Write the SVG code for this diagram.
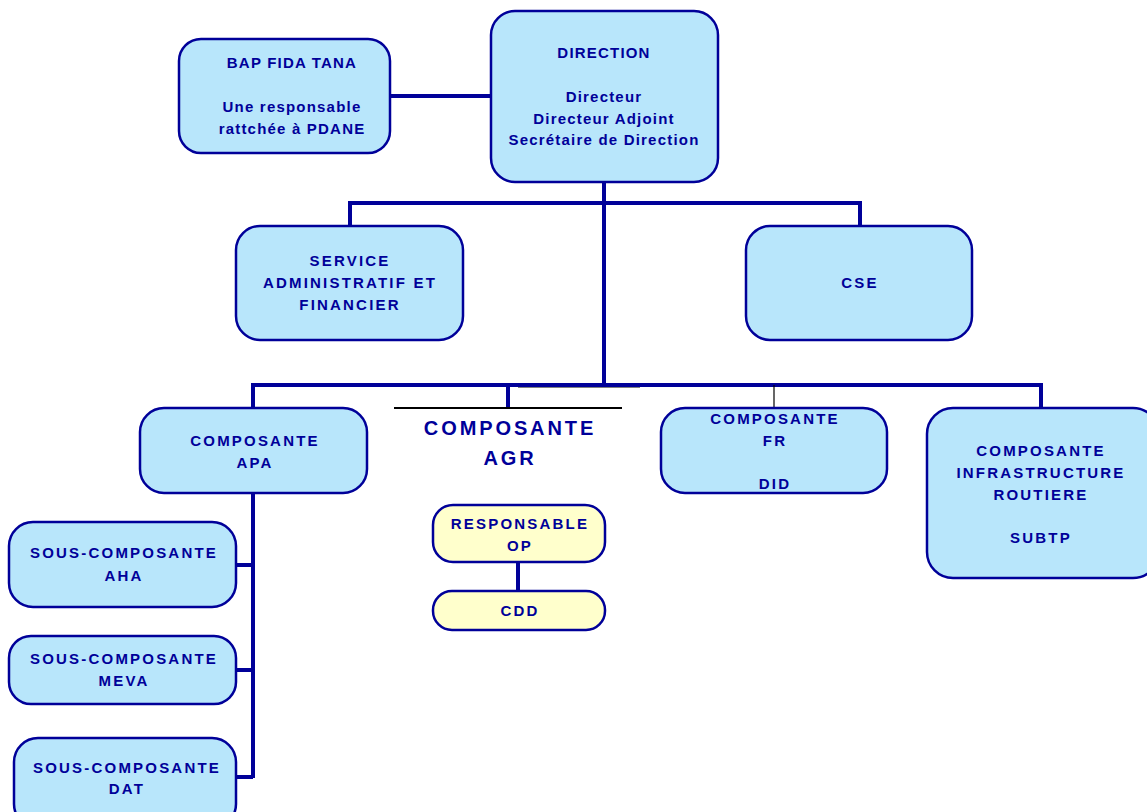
<svg xmlns="http://www.w3.org/2000/svg" width="1147" height="812" viewBox="0 0 1147 812">
<style>
.b{fill:#B8E6FB;stroke:#000099;stroke-width:2.5}
.y{fill:#FFFFCC;stroke:#000099;stroke-width:2.5}
.c{stroke:#000099;stroke-width:4;fill:none}
.t{fill:#000099;font-family:"Liberation Sans",Arial,sans-serif;font-weight:bold;font-size:15px;text-anchor:middle;letter-spacing:1.2px}
.k{letter-spacing:2.2px}
.big{font-size:20px;letter-spacing:2.9px}
</style>
<rect width="1147" height="812" fill="#fff"/>
<g id="connectors">
<path class="c" d="M390 96H491"/>
<path d="M518 387H640" stroke="#000" stroke-width="1"/>
<path class="c" d="M604 182V387"/>
<path class="c" d="M350 226V203H860V226"/>
<path class="c" d="M253 408V385H1041V408"/>
<path class="c" d="M508 385V408"/>
<path d="M774 385V408" stroke="#000" stroke-width="1.2"/>
<path class="c" d="M253 493V778"/>
<path class="c" d="M236 565H253M236 670H253M236 777H253"/>
<path class="c" d="M518 562V591"/>
</g>
<g id="bap"><rect class="b" x="179" y="39" width="211" height="114" rx="22"/>
<text class="t" x="292" y="68">BAP FIDA TANA</text>
<text class="t" x="292" y="112">Une responsable</text>
<text class="t" x="292" y="134">rattchée à PDANE</text></g>
<g id="direction"><rect class="b" x="491" y="11" width="227" height="171" rx="24"/>
<text class="t" x="604" y="58">DIRECTION</text>
<text class="t" x="604" y="102">Directeur</text>
<text class="t" x="604" y="124">Directeur Adjoint</text>
<text class="t" x="604" y="145">Secrétaire de Direction</text></g>
<g id="saf"><rect class="b" x="236" y="226" width="227" height="114" rx="24"/>
<text class="t k" x="350" y="266">SERVICE</text>
<text class="t k" x="350" y="288">ADMINISTRATIF ET</text>
<text class="t k" x="350" y="310">FINANCIER</text></g>
<g id="cse"><rect class="b" x="746" y="226" width="226" height="114" rx="24"/>
<text class="t k" x="860" y="288">CSE</text></g>
<g id="apa"><rect class="b" x="140" y="408" width="227" height="85" rx="24"/>
<text class="t k" x="255" y="446">COMPOSANTE</text>
<text class="t k" x="255" y="468">APA</text></g>
<g id="agr"><path d="M394 408H622" stroke="#000" stroke-width="2"/>
<text class="t big" x="510" y="435">COMPOSANTE</text>
<text class="t big" x="510" y="465">AGR</text></g>
<g id="fr"><rect class="b" x="661" y="408" width="226" height="85" rx="24"/>
<text class="t k" x="775" y="424">COMPOSANTE</text>
<text class="t k" x="775" y="446">FR</text>
<text class="t k" x="775" y="489">DID</text></g>
<g id="infra"><rect class="b" x="927" y="408" width="232" height="170" rx="26"/>
<text class="t k" x="1041" y="456">COMPOSANTE</text>
<text class="t k" x="1041" y="478">INFRASTRUCTURE</text>
<text class="t k" x="1041" y="500">ROUTIERE</text>
<text class="t k" x="1041" y="543">SUBTP</text></g>
<g id="op"><rect class="y" x="433" y="505" width="172" height="57" rx="20"/>
<text class="t k" x="520" y="529">RESPONSABLE</text>
<text class="t k" x="520" y="551">OP</text></g>
<g id="cdd"><rect class="y" x="433" y="591" width="172" height="39" rx="19"/>
<text class="t k" x="520" y="616">CDD</text></g>
<g id="aha"><rect class="b" x="9" y="522" width="227" height="85" rx="24"/>
<text class="t k" x="124" y="558">SOUS-COMPOSANTE</text>
<text class="t k" x="124" y="581">AHA</text></g>
<g id="meva"><rect class="b" x="9" y="636" width="227" height="68" rx="22"/>
<text class="t k" x="124" y="664">SOUS-COMPOSANTE</text>
<text class="t k" x="124" y="686">MEVA</text></g>
<g id="dat"><rect class="b" x="14" y="738" width="222" height="90" rx="24"/>
<text class="t k" x="127" y="773">SOUS-COMPOSANTE</text>
<text class="t k" x="127" y="794">DAT</text></g>
</svg>
